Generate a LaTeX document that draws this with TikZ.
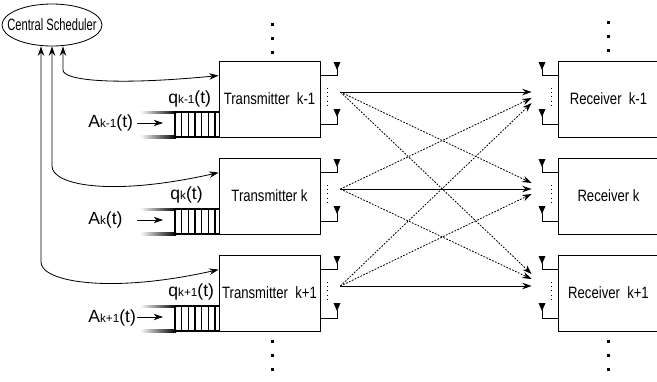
\documentclass[tikz,border=0pt]{standalone}
\usepackage{fontspec}
\setmainfont{Liberation Sans}
\newfontfamily\boxfont{Liberation Sans}[FakeStretch=0.8]
\newfontfamily\schedfont{Liberation Sans}[FakeStretch=0.68]
\usetikzlibrary{arrows.meta,positioning,shapes.geometric,calc}

\newcommand{\sub}[1]{{\fontsize{10}{10}\selectfont #1}}

\begin{document}
\begin{tikzpicture}[x=0.03cm,y=-0.03cm,>={Stealth[length=8pt,width=5.5pt]},line width=0.7pt,
  box/.style={draw,rectangle,minimum width=3.03cm,minimum height=2.28cm,inner sep=0pt,font=\boxfont\fontsize{14}{16}\selectfont},
  lbl/.style={anchor=west,inner sep=0pt,font=\fontsize{15}{18}\selectfont},
  wire/.style={dash pattern=on 1.5pt off 1.2pt}]
\clip (0,0) rectangle (657,381);

% scheduler
\node[draw,ellipse,minimum width=3cm,minimum height=1.26cm,inner sep=0pt,font=\schedfont\fontsize{14}{16}\selectfont] (sched) at (52,25) {\makebox[0pt]{Central Scheduler}};

% transmitters and receivers
\node[box] (tx1) at (269.5,99) {Transmitter\ \ k-1};
\node[box] (tx2) at (269.5,196) {Transmitter k};
\node[box] (tx3) at (269.5,293) {Transmitter\ \ k+1};
\node[box] (rx1) at (608.5,99) {Receiver\ \ k-1};
\node[box] (rx2) at (608.5,196) {Receiver k};
\node[box] (rx3) at (608.5,293) {Receiver\ \ k+1};

% arrivals and queue lengths
\node[lbl] (a1) at (88,123) {A\sub{k-1}(t)};
\node[lbl] (a2) at (88,220) {A\sub{k}(t)};
\node[lbl] (a3) at (88,318) {A\sub{k+1}(t)};
\node[lbl] (q1) at (168,99) {q\sub{k-1}(t)};
\node[lbl] (q2) at (170,195) {q\sub{k}(t)};
\node[lbl] (q3) at (168,292) {q\sub{k+1}(t)};

\foreach \c [count=\i] in {99,196,293} {
  % queue
  \shade[left color=white,right color=black] (140,\c+12) rectangle (176,\c+14.5);
  \shade[left color=white,right color=black] (140,\c+36.5) rectangle (176,\c+39);
  \draw[line width=1.3pt] (175,\c+13) -- (219,\c+13) (175,\c+38) -- (219,\c+38);
  \foreach \k in {0,...,6} \draw[line width=1.3pt] (175+6.67*\k,\c+13) -- (175+6.67*\k,\c+38);
  \coordinate (ain\i) at (137,\c+24);
  \coordinate (qin\i) at (163,\c+24);
  \draw[->,line width=0.6pt] (ain\i) -- (qin\i);
  % antennas
  \draw (320,\c-24) -| (337,\c-30) (320,\c+25) -| (337,\c+17);
  \draw (558,\c-24) -| (542,\c-30) (558,\c+25) -| (542,\c+17);
  \foreach \x in {337,542} {
    \fill (\x-3.5,\c-37) -- (\x+3.5,\c-37) -- (\x,\c-29) -- cycle;
    \fill (\x-3.5,\c+10) -- (\x+3.5,\c+10) -- (\x,\c+18) -- cycle;
  }
  \draw[line width=0.5pt,dash pattern=on 0.6pt off 3pt] (327,\c-11) -- (327,\c+9);
  \draw[line width=0.5pt,dash pattern=on 0.6pt off 3pt] (551,\c-11) -- (551,\c+9);
  \coordinate (o\i) at ($(tx\i.east)+(20,-7)$);
  \coordinate (r\i) at ($(rx\i.west)+(-26,-7)$);
}

% links
\draw[->] (o1) -- (r1);
\draw[->] (o2) -- (r2);
\draw[->] (o3) -- (r3);
\draw[->,wire] (o1) -- ($(r2)+(0,-6)$);
\draw[->,wire] (o1) -- ($(r3)+(0,-12)$);
\draw[->,wire] (o2) -- ($(r1)+(0,6)$);
\draw[->,wire] (o2) -- ($(r3)+(0,-7)$);
\draw[->,wire] (o3) -- ($(r1)+(0,11)$);
\draw[->,wire] (o3) -- ($(r2)+(0,5)$);

% control lines
\draw[<->] ($(sched.south)+(11,0)$) -- (63,70) .. controls (63,80) and (110,86) .. ($(tx1.north west)+(0,15)$);
\draw[<->] (sched.south) -- (52,166) .. controls (52,185) and (110,197) .. ($(tx2.north west)+(0,15)$);
\draw[<->] ($(sched.south)+(-11,0)$) -- (41,262) .. controls (41,282) and (110,294) .. ($(tx3.north west)+(0,15)$);

% more users
\foreach \y in {23,37,51,340,354,368} \fill (270.5,\y) rectangle +(3,3);
\foreach \y in {21,35,49,340,354,368} \fill (606.5,\y) rectangle +(3,3);
\end{tikzpicture}
\end{document}
